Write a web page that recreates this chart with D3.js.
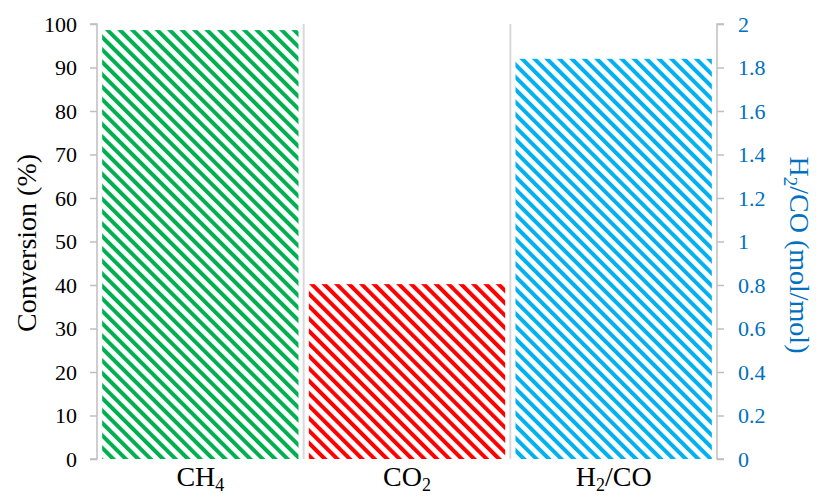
<!DOCTYPE html>
<html>
<head>
<meta charset="utf-8">
<script src="https://d3js.org/d3.v7.min.js"></script>
<style>
  body { margin: 0; background: #fff; }
  text { font-family: "Liberation Serif", "Times New Roman", serif; }
</style>
</head>
<body>
<div class="chart"></div>
<script>
// data
var categories = ["CH4", "CO2", "H2/CO"];
var labelParts = [["CH", "4", ""], ["CO", "2", ""], ["H", "2", "/CO"]];
var conversion = [98.6, 40.2, null];   // left axis, %
var ratio = [null, null, 1.84];         // right axis, mol/mol
var colors = ["#00B050", "#FF0000", "#00B0F0"];
var leftTicks = [0, 10, 20, 30, 40, 50, 60, 70, 80, 90, 100];
var rightTicks = [0, 0.2, 0.4, 0.6, 0.8, 1, 1.2, 1.4, 1.6, 1.8, 2];

var width = 816, height = 497;
var margin = { top: 24, right: 99, bottom: 38, left: 97 };

var svg = d3.select(".chart").append("svg")
  .attr("width", width)
  .attr("height", height);

var x = d3.scaleBand()
  .domain(categories)
  .range([margin.left, width - margin.right])
  .paddingInner(0.05)
  .paddingOuter(0.025);

var yL = d3.scaleLinear().domain([0, 100]).range([height - margin.bottom, margin.top]);
var yR = d3.scaleLinear().domain([0, 2]).range([height - margin.bottom, margin.top]);

// stripe patterns
var defs = svg.append("defs");
colors.forEach(function (c, i) {
  var p = defs.append("pattern")
    .attr("id", "stripe" + i)
    .attr("patternUnits", "userSpaceOnUse")
    .attr("width", 8.8)
    .attr("height", 8.8)
    .attr("patternTransform", "rotate(-45)");
  p.append("rect").attr("width", 8.8).attr("height", 8.8).attr("fill", "#fff");
  p.append("rect").attr("width", 4).attr("height", 8.8).attr("fill", c);
});

// category separators
categories.slice(1).forEach(function (c) {
  var sx = x(c) - x.step() * x.paddingInner() / 2;
  svg.append("line")
    .attr("x1", sx).attr("x2", sx)
    .attr("y1", yL(100)).attr("y2", yL(0))
    .attr("stroke", "#D9D9D9")
    .attr("stroke-width", 2);
});

// bars
svg.selectAll("rect.conv")
  .data(categories)
  .enter()
  .filter(function (d, i) { return conversion[i] != null; })
  .append("rect")
  .attr("class", "conv")
  .attr("x", function (d) { return x(d); })
  .attr("width", x.bandwidth())
  .attr("y", function (d) { return yL(conversion[categories.indexOf(d)]); })
  .attr("height", function (d) { return yL(0) - yL(conversion[categories.indexOf(d)]); })
  .attr("fill", function (d) { return "url(#stripe" + categories.indexOf(d) + ")"; });

svg.selectAll("rect.ratio")
  .data(categories)
  .enter()
  .filter(function (d, i) { return ratio[i] != null; })
  .append("rect")
  .attr("class", "ratio")
  .attr("x", function (d) { return x(d); })
  .attr("width", x.bandwidth())
  .attr("y", function (d) { return yR(ratio[categories.indexOf(d)]); })
  .attr("height", function (d) { return yR(0) - yR(ratio[categories.indexOf(d)]); })
  .attr("fill", function (d) { return "url(#stripe" + categories.indexOf(d) + ")"; });

// left axis
var gL = svg.append("g")
  .attr("transform", "translate(" + margin.left + ",0)")
  .call(d3.axisLeft(yL).tickValues(leftTicks).tickSize(7).tickPadding(13));
gL.selectAll("path, line").attr("stroke", "#BFBFBF").attr("stroke-width", 1.5);
gL.select(".domain").attr("d", "M-7," + yL(100) + "H0V" + yL(0) + "H-7");
gL.selectAll("text").attr("font-size", 22).attr("fill", "#000")
  .style("font-family", "Liberation Serif");

// right axis
var gR = svg.append("g")
  .attr("transform", "translate(" + (width - margin.right) + ",0)")
  .call(d3.axisRight(yR).tickValues(rightTicks).tickSize(7).tickPadding(14)
    .tickFormat(function (d) { return String(d); }));
gR.selectAll("path, line").attr("stroke", "#BFBFBF").attr("stroke-width", 1.5);
gR.select(".domain").attr("d", "M7," + yR(2) + "H0V" + yR(0) + "H7");
gR.selectAll("text").attr("font-size", 22).attr("fill", "#0070C0")
  .style("font-family", "Liberation Serif");

// category labels
labelParts.forEach(function (parts, i) {
  var t = svg.append("text")
    .attr("x", x(categories[i]) + x.bandwidth() / 2)
    .attr("y", 486)
    .attr("text-anchor", "middle")
    .attr("font-size", 28)
    .attr("fill", "#000");
  t.append("tspan").text(parts[0]);
  t.append("tspan").attr("dy", 5).attr("font-size", 18).text(parts[1]);
  if (parts[2]) t.append("tspan").attr("dy", -5).text(parts[2]);
});

// axis titles
svg.append("text")
  .attr("transform", "translate(36," + 243 + ") rotate(-90)")
  .attr("text-anchor", "middle")
  .attr("font-size", 28)
  .attr("fill", "#000")
  .text("Conversion (%)");

var rt = svg.append("text")
  .attr("transform", "translate(790," + 255 + ") rotate(90)")
  .attr("text-anchor", "middle")
  .attr("font-size", 28)
  .attr("fill", "#0070C0");
rt.append("tspan").text("H");
rt.append("tspan").attr("dy", 6).attr("font-size", 19).text("2");
rt.append("tspan").attr("dy", -6).text("/CO (mol/mol)");
</script>
</body>
</html>
